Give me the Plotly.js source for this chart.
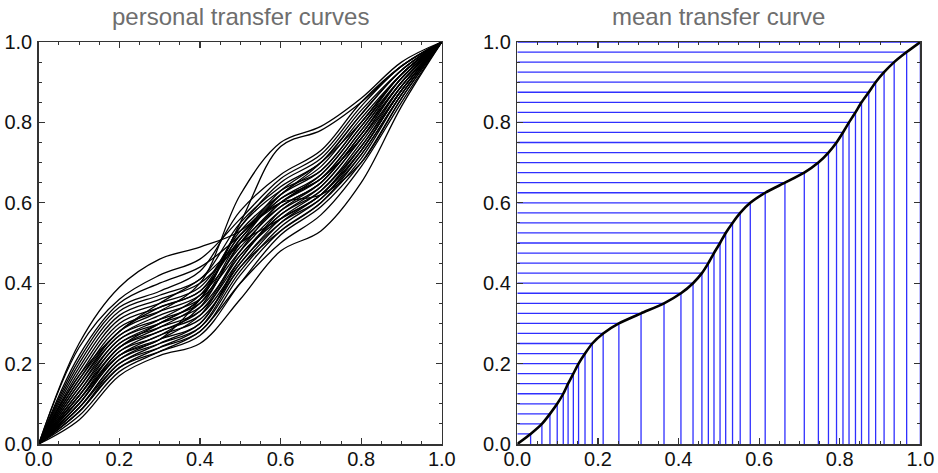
<!DOCTYPE html>
<html>
<head>
<meta charset="utf-8">
<script src="https://cdn.plot.ly/plotly-3.0.1.min.js"></script>
<style>html,body{margin:0;padding:0;background:#fff;}#chart{width:938px;height:473px;}</style>
</head>
<body>
<div id="chart"></div>
<script>
// x grid shared by the personal curves
const personalX = [0, 0.1, 0.2, 0.3, 0.4, 0.5, 0.6, 0.7, 0.8, 0.9, 1.0];

// personal transfer curves (y at personalX)
const curveA  = [0, 0.25, 0.39, 0.46, 0.49, 0.53, 0.62, 0.70, 0.82, 0.93, 1];
const curveB  = [0, 0.24, 0.36, 0.42, 0.46, 0.56, 0.66, 0.72, 0.84, 0.94, 1];
const curveC  = [0, 0.22, 0.35, 0.40, 0.44, 0.52, 0.63, 0.70, 0.80, 0.92, 1];
const curveD  = [0, 0.21, 0.34, 0.38, 0.43, 0.58, 0.67, 0.73, 0.85, 0.94, 1];
const curveE  = [0, 0.20, 0.33, 0.37, 0.41, 0.55, 0.64, 0.70, 0.82, 0.93, 1];
const curveF  = [0, 0.19, 0.32, 0.36, 0.40, 0.50, 0.60, 0.67, 0.79, 0.92, 1];
const curveG  = [0, 0.18, 0.31, 0.35, 0.39, 0.53, 0.62, 0.68, 0.80, 0.92, 1];
const curveH  = [0, 0.15, 0.28, 0.33, 0.40, 0.62, 0.75, 0.79, 0.86, 0.95, 1];
const curveI  = [0, 0.12, 0.24, 0.30, 0.36, 0.55, 0.74, 0.78, 0.85, 0.94, 1];
const curveJ  = [0, 0.17, 0.30, 0.34, 0.38, 0.51, 0.61, 0.66, 0.78, 0.91, 1];
const curveK  = [0, 0.16, 0.29, 0.33, 0.37, 0.49, 0.59, 0.65, 0.77, 0.91, 1];
const curveL  = [0, 0.16, 0.28, 0.34, 0.38, 0.54, 0.65, 0.71, 0.83, 0.93, 1];
const curveM  = [0, 0.15, 0.27, 0.32, 0.36, 0.48, 0.58, 0.64, 0.76, 0.90, 1];
const curveN  = [0, 0.14, 0.27, 0.31, 0.35, 0.50, 0.62, 0.69, 0.81, 0.92, 1];
const curveO  = [0, 0.14, 0.26, 0.31, 0.37, 0.52, 0.60, 0.66, 0.78, 0.91, 1];
const curveP  = [0, 0.13, 0.26, 0.30, 0.34, 0.47, 0.57, 0.64, 0.76, 0.90, 1];
const curveQ  = [0, 0.13, 0.25, 0.30, 0.36, 0.54, 0.63, 0.68, 0.80, 0.92, 1];
const curveR  = [0, 0.12, 0.25, 0.29, 0.33, 0.46, 0.58, 0.65, 0.77, 0.90, 1];
const curveS  = [0, 0.12, 0.24, 0.29, 0.35, 0.51, 0.61, 0.67, 0.79, 0.91, 1];
const curveT  = [0, 0.11, 0.24, 0.28, 0.33, 0.48, 0.60, 0.66, 0.76, 0.89, 1];
const curveU  = [0, 0.11, 0.23, 0.28, 0.32, 0.45, 0.56, 0.63, 0.74, 0.89, 1];
const curveV  = [0, 0.10, 0.23, 0.27, 0.34, 0.50, 0.59, 0.65, 0.77, 0.90, 1];
const curveW  = [0, 0.10, 0.22, 0.27, 0.31, 0.44, 0.55, 0.62, 0.73, 0.88, 1];
const curveX  = [0, 0.10, 0.22, 0.26, 0.30, 0.46, 0.57, 0.63, 0.75, 0.89, 1];
const curveY  = [0, 0.09, 0.21, 0.26, 0.32, 0.47, 0.56, 0.62, 0.74, 0.88, 1];
const curveZ  = [0, 0.09, 0.21, 0.25, 0.29, 0.43, 0.54, 0.61, 0.72, 0.87, 1];
const curveAA = [0, 0.09, 0.20, 0.25, 0.30, 0.45, 0.55, 0.61, 0.73, 0.88, 1];
const curveAB = [0, 0.08, 0.20, 0.24, 0.28, 0.42, 0.53, 0.60, 0.71, 0.87, 1];
const curveAC = [0, 0.08, 0.19, 0.24, 0.29, 0.44, 0.53, 0.60, 0.72, 0.87, 1];
const curveAD = [0, 0.08, 0.19, 0.23, 0.27, 0.40, 0.52, 0.59, 0.70, 0.86, 1];
const curveAE = [0, 0.07, 0.18, 0.23, 0.28, 0.40, 0.50, 0.57, 0.69, 0.85, 1];
const curveAF = [0, 0.06, 0.17, 0.22, 0.25, 0.36, 0.48, 0.53, 0.65, 0.84, 1];
const curveAG = [0, 0.11, 0.22, 0.26, 0.36, 0.52, 0.60, 0.62, 0.70, 0.86, 1];
const curveAH = [0, 0.17, 0.28, 0.35, 0.41, 0.50, 0.56, 0.62, 0.73, 0.88, 1];

const personalCurves = [curveA, curveB, curveC, curveD, curveE, curveF, curveG, curveH, curveI,
  curveJ, curveK, curveL, curveM, curveN, curveO, curveP, curveQ, curveR, curveS, curveT, curveU,
  curveV, curveW, curveX, curveY, curveZ, curveAA, curveAB, curveAC, curveAD, curveAE, curveAF,
  curveAG, curveAH];

// mean transfer curve: output levels and the input where the curve reaches them
const meanLevels = [0.025, 0.05, 0.075, 0.1, 0.125, 0.15, 0.175, 0.2, 0.225, 0.25, 0.275, 0.3,
  0.325, 0.35, 0.375, 0.4, 0.425, 0.45, 0.475, 0.5, 0.525, 0.55, 0.575, 0.6, 0.625, 0.65, 0.675,
  0.7, 0.725, 0.75, 0.775, 0.8, 0.825, 0.85, 0.875, 0.9, 0.925, 0.95, 0.975, 1.0];
const meanInputs = [0.033, 0.061, 0.081, 0.099, 0.114, 0.126, 0.139, 0.152, 0.168, 0.186, 0.213,
  0.252, 0.307, 0.364, 0.406, 0.436, 0.458, 0.474, 0.488, 0.503, 0.517, 0.534, 0.553, 0.578,
  0.615, 0.664, 0.712, 0.747, 0.772, 0.792, 0.808, 0.823, 0.839, 0.854, 0.872, 0.889, 0.910,
  0.935, 0.966, 1.0];

const tickVals = [0, 0.2, 0.4, 0.6, 0.8, 1.0];
const tickText = ['0.0', '0.2', '0.4', '0.6', '0.8', '1.0'];

const traces = [];
personalCurves.forEach(c => {
  traces.push({x: personalX, y: c, type: 'scatter', mode: 'lines', xaxis: 'x', yaxis: 'y',
    line: {color: '#000', width: 1.3, shape: 'spline', smoothing: 1}, hoverinfo: 'skip'});
});

// blue guide lines
const gx = [], gy = [];
meanLevels.forEach((lv, i) => {
  const xi = meanInputs[i];
  gx.push(0, xi, xi, null);
  gy.push(lv, lv, 0, null);
});
traces.push({x: gx, y: gy, type: 'scatter', mode: 'lines', xaxis: 'x2', yaxis: 'y2',
  line: {color: '#2f2fff', width: 1.3}, hoverinfo: 'skip'});
traces.push({x: [0].concat(meanInputs), y: [0].concat(meanLevels), type: 'scatter', mode: 'lines',
  xaxis: 'x2', yaxis: 'y2', line: {color: '#000', width: 2.6, shape: 'spline', smoothing: 0.6},
  hoverinfo: 'skip'});

function ax(domain, anchor, isX) {
  return {
    domain: domain, anchor: anchor, range: [0, 1], autorange: false,
    tickvals: tickVals, ticktext: tickText, ticks: 'inside', ticklen: 6, tickwidth: 1.2,
    tickcolor: '#333', showline: true, linecolor: '#333', linewidth: 1.5, mirror: 'ticks',
    showgrid: false, zeroline: false, ticklabelstandoff: isX ? -4 : 1,
    tickfont: {family: 'Liberation Sans, Arial, sans-serif', size: 20, color: '#111'},
    minor: {dtick: 0.05, tick0: 0, ticks: 'inside', ticklen: 3, tickwidth: 1, tickcolor: '#333'}
  };
}

const yDom = [0.0613, 0.9112];
const layout = {
  width: 938, height: 473,
  margin: {l: 0, r: 0, t: 0, b: 0},
  paper_bgcolor: '#fff', plot_bgcolor: '#fff',
  showlegend: false,
  xaxis: ax([0.0413, 0.471], 'y', true),
  yaxis: ax(yDom, 'x', false),
  xaxis2: ax([0.5515, 0.9812], 'y2', true),
  yaxis2: ax(yDom, 'x2', false),
  annotations: [
    {text: 'personal transfer curves', xref: 'paper', yref: 'paper', x: 0.256, y: 1 - 16 / 473,
     xanchor: 'center', yanchor: 'middle', showarrow: false,
     font: {family: 'Liberation Sans, Arial, sans-serif', size: 24, color: '#6e6e6e'}},
    {text: 'mean transfer curve', xref: 'paper', yref: 'paper', x: 0.7663, y: 1 - 16 / 473,
     xanchor: 'center', yanchor: 'middle', showarrow: false,
     font: {family: 'Liberation Sans, Arial, sans-serif', size: 24, color: '#6e6e6e'}}
  ]
};

Plotly.newPlot('chart', traces, layout, {staticPlot: true, displayModeBar: false});
</script>
</body>
</html>
